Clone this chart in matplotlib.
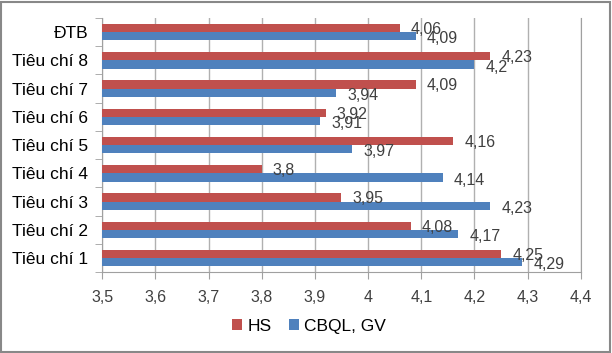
import numpy as np
import matplotlib.pyplot as plt
from matplotlib.patches import Rectangle

categories = ['Tiêu chí 1', 'Tiêu chí 2', 'Tiêu chí 3', 'Tiêu chí 4', 'Tiêu chí 5',
              'Tiêu chí 6', 'Tiêu chí 7', 'Tiêu chí 8', 'ĐTB']
hs = [4.25, 4.08, 3.95, 3.8, 4.16, 3.92, 4.09, 4.23, 4.06]
cbql = [4.29, 4.17, 4.23, 4.14, 3.97, 3.91, 3.94, 4.2, 4.09]
xticks = [3.5, 3.6, 3.7, 3.8, 3.9, 4.0, 4.1, 4.2, 4.3, 4.4]

red = '#c0504d'
blue = '#4f81bd'

plt.rcParams['font.family'] = ['Liberation Sans', 'DejaVu Sans']

fig = plt.figure(figsize=(6.12, 3.53), dpi=100)
ax = fig.add_axes([0.167, 0.229, 0.782, 0.72])

y = np.arange(len(categories))
h = 0.29
ax.barh(y + h/2, hs, height=h, left=0, color=red, label='HS', zorder=3)
ax.barh(y - h/2, cbql, height=h, left=0, color=blue, label='CBQL, GV', zorder=3)

def fmt(v):
    s = ('%.2f' % v).rstrip('0').rstrip('.')
    return s.replace('.', ',')

for i in range(len(categories)):
    ax.annotate(fmt(hs[i]), (hs[i], y[i] + h/2), xytext=(8, -1), textcoords='offset points',
                va='center', ha='left', fontsize=11.5, color='#404040', zorder=4)
    ax.annotate(fmt(cbql[i]), (cbql[i], y[i] - h/2), xytext=(8, -2), textcoords='offset points',
                va='center', ha='left', fontsize=11.5, color='#404040', zorder=4)

ax.set_xlim(3.5, 4.4)
ax.set_ylim(-0.5, len(categories) - 0.5)
ax.set_xticks(xticks)
ax.set_xticklabels([fmt(t) for t in xticks], fontsize=11.5, color='#404040')
ax.set_yticks(y)
ax.set_yticklabels(categories, fontsize=12.5)
ax.yaxis.set_minor_locator(plt.FixedLocator(np.arange(-0.5, len(categories), 1)))
ax.tick_params(axis='y', which='major', length=0, pad=10)
ax.tick_params(axis='y', which='minor', length=5, color='#a0a0a0')
ax.tick_params(axis='x', length=5, color='#a0a0a0', pad=8, direction='out')

ax.grid(axis='x', color='#b0b0b0', linewidth=1, zorder=0)
for s in ['left', 'bottom', 'right']:
    ax.spines[s].set_color('#a0a0a0')
ax.spines['top'].set_visible(False)

leg = fig.legend(handles=ax.get_legend_handles_labels()[0], labels=['HS', 'CBQL, GV'],
                 loc='center', bbox_to_anchor=(0.505, 0.075), ncol=2, frameon=False,
                 fontsize=12.5, handlelength=0.6, handleheight=0.6, handletextpad=0.3,
                 columnspacing=1.0)

fig.patches.append(Rectangle((0.002, 0.003), 0.994, 0.992, transform=fig.transFigure,
                             fill=False, edgecolor='#888888', linewidth=1.5))

fig.savefig('out.png', dpi=100)
